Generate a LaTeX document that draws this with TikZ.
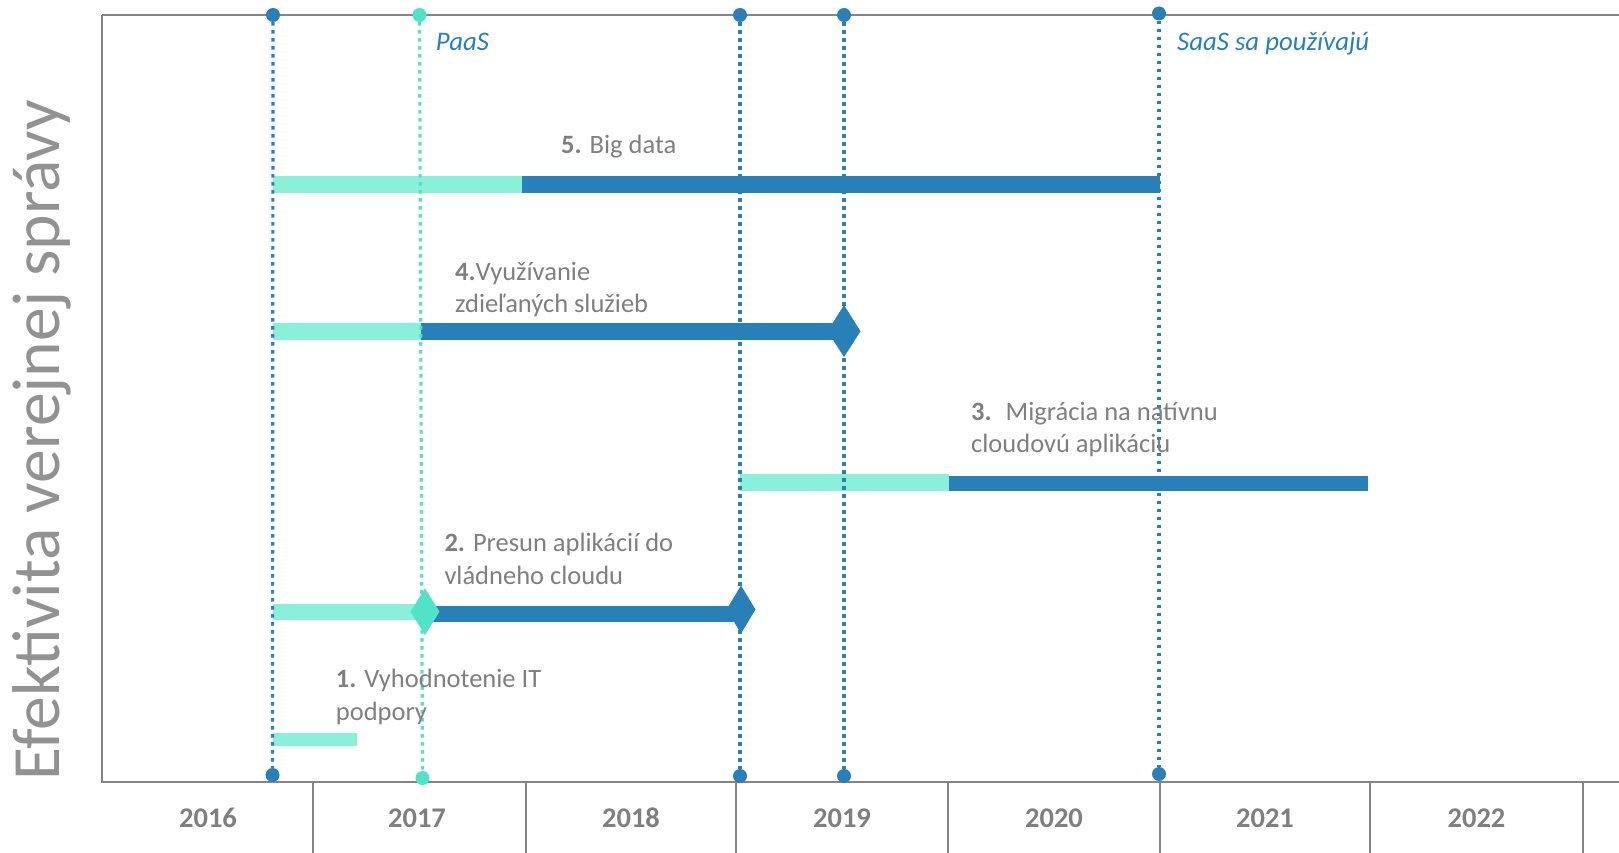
\documentclass[tikz,border=0pt]{standalone}
\usepackage{fontspec}
\setmainfont{Carlito}
\definecolor{cblue}{HTML}{2980B9}
\definecolor{clight}{HTML}{8BF0DA}
\definecolor{cturq}{HTML}{50E3C8}
\definecolor{ctext}{HTML}{7F7F7F}
\definecolor{cframe}{HTML}{858585}
\begin{document}
\begin{tikzpicture}[x=1pt,y=-1pt,
  frame/.style={draw=cframe,line width=2pt},
  dotline/.style={line width=3.2pt,dash pattern=on 3.5pt off 4.5pt},
  bdot/.style={circle,fill=cblue,inner sep=0pt,minimum size=14pt},
  tdot/.style={circle,fill=cturq,inner sep=0pt,minimum size=14pt},
  lbl/.style={anchor=base west,align=left,inner sep=0pt,text=ctext,font=\fontsize{26.5}{32.5}\selectfont},
  yr/.style={anchor=base,inner sep=0pt,text=ctext,font=\fontsize{28.5}{30}\selectfont\bfseries},
  note/.style={anchor=base west,inner sep=0pt,text=cblue,font=\fontsize{26.8}{30}\selectfont\itshape}]
\useasboundingbox (0,0) rectangle (1619,853);
% frame
\draw[frame] (102,15) -- (102,782) -- (1619,782);
\draw[frame] (102,15) -- (1619,15);
\foreach \x in {313,525.5,736,948,1159.5,1370,1583}{
  \draw[frame] (\x,782) -- (\x,853);
}
% years
\node[yr] (y2016) at (208,827) {2016};
\node[yr] (y2017) at (417,827) {2017};
\node[yr] (y2018) at (631,827) {2018};
\node[yr] (y2019) at (842,827) {2019};
\node[yr] (y2020) at (1054,827) {2020};
\node[yr] (y2021) at (1265,827) {2021};
\node[yr] (y2022) at (1476.5,827) {2022};
% vertical title
\node[rotate=90,anchor=base,inner sep=0pt,text=ctext!85!white,font=\fontsize{67.6}{70}\selectfont] (title) at (59,440) {Efektivita verejnej správy};
% bars
\fill[clight] (273,176) rectangle (521.5,193);
\fill[cblue] (521.5,176) rectangle (1159.5,193);
\fill[clight] (273,322.7) rectangle (421,339.5);
\fill[cblue] (421,322.7) rectangle (840,340);
\fill[cblue] (844,305) -- (860.5,331.3) -- (844,357) -- (827.5,331.3) -- cycle;
\fill[clight] (740,474) rectangle (949,490.7);
\fill[cblue] (949,476) rectangle (1367.7,490.7);
\fill[clight] (273,604) rectangle (425,620);
\fill[cblue] (425,606) rectangle (741,621.7);
\fill[cturq] (425,588.3) -- (439.5,611.7) -- (425,635) -- (410.5,611.7) -- cycle;
\fill[cblue] (741,585.5) -- (755.5,609.5) -- (741,633.5) -- (726.5,609.5) -- cycle;
\fill[clight] (272.5,733.3) rectangle (356.7,745.7);
% dotted milestone lines
\node[bdot] (a1) at (273,15) {};
\node[bdot] (a2) at (272.5,775) {};
\node[tdot] (b1) at (419.5,15) {};
\node[tdot] (b2) at (422.5,778) {};
\node[bdot] (c1) at (740,15) {};
\node[bdot] (c2) at (740,776) {};
\node[bdot] (d1) at (844,15) {};
\node[bdot] (d2) at (844,776) {};
\node[bdot] (e1) at (1159,13.5) {};
\node[bdot] (e2) at (1159,774) {};
\draw[dotline,cblue] (a1) -- (a2);
\draw[dotline,cturq] (b1) -- (b2);
\draw[dotline,cblue] (c1) -- (c2);
\draw[dotline,cblue] (d1) -- (d2);
\draw[dotline,cblue] (e1) -- (e2);
% notes
\node[note] (paas) at (435.7,50.7) {PaaS};
\node[note] (saas) at (1177,51) {SaaS sa používajú};
% labels (multi-line nodes: base = last line)
\node[lbl] (l5) at (561,153.3) {\textbf{5.} Big data};
\node[lbl] (l4) at (455,312.7) {\textbf{4.}Využívanie\\zdieľaných služieb};
\node[lbl] (l3) at (971,452.7) {\textbf{3.}~ Migrácia na natívnu\\cloudovú aplikáciu};
\node[lbl] (l2) at (444.3,584.3) {\textbf{2.} Presun aplikácií do\\vládneho cloudu};
\node[lbl] (l1) at (335.7,720) {\textbf{1.} Vyhodnotenie IT\\podpory};
\end{tikzpicture}
\end{document}
